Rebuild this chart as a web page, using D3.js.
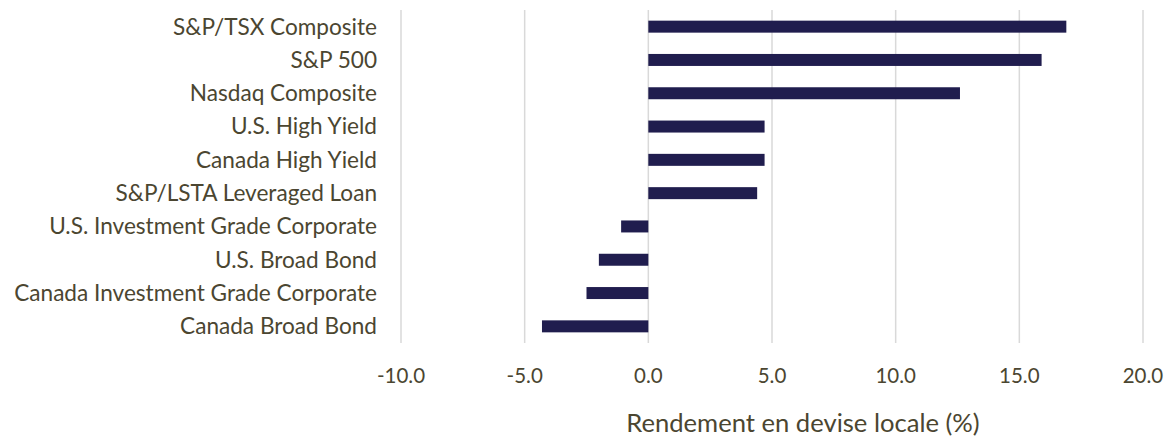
<!DOCTYPE html>
<html>
<head>
<meta charset="utf-8">
<script src="https://cdn.jsdelivr.net/npm/d3@7"></script>
<style>
body { margin: 0; background: #fff; }
text { font-family: "Source Sans Pro", "Lato", "Noto Sans", sans-serif; fill: #4b4631; }
</style>
</head>
<body>
<div id="chart"></div>
<script>
// categories, top to bottom
var categories = [
	"S&P/TSX Composite",
	"S&P 500",
	"Nasdaq Composite",
	"U.S. High Yield",
	"Canada High Yield",
	"S&P/LSTA Leveraged Loan",
	"U.S. Investment Grade Corporate",
	"U.S. Broad Bond",
	"Canada Investment Grade Corporate",
	"Canada Broad Bond"
];
var returns = [16.9, 15.9, 12.6, 4.7, 4.7, 4.4, -1.1, -2.0, -2.5, -4.3];
var tickValues = [-10, -5, 0, 5, 10, 15, 20];
var axisTitle = "Rendement en devise locale (%)";

var W = 1172, H = 437;
var plotLeft = 401, plotRight = 1143, plotTop = 10, plotBottom = 343;

var svg = d3.select("#chart").append("svg")
	.attr("width", W)
	.attr("height", H);

var x = d3.scaleLinear().domain([-10, 20]).range([plotLeft, plotRight]);
var y = d3.scaleBand().domain(categories).range([plotTop, plotBottom]).paddingInner(0.64).paddingOuter(0.32);

// gridlines
svg.append("g").selectAll("line")
	.data(tickValues)
	.enter().append("line")
	.attr("x1", function(d) { return x(d); })
	.attr("x2", function(d) { return x(d); })
	.attr("y1", plotTop)
	.attr("y2", plotBottom)
	.attr("stroke", "#d9d9d9")
	.attr("stroke-width", 1.5);

// bars
svg.append("g").selectAll("rect")
	.data(returns)
	.enter().append("rect")
	.attr("x", function(d) { return x(Math.min(0, d)); })
	.attr("width", function(d) { return Math.abs(x(d) - x(0)); })
	.attr("y", function(d, i) { return y(categories[i]); })
	.attr("height", y.bandwidth())
	.attr("fill", "#201d4e");

// category labels
svg.append("g").selectAll("text")
	.data(categories)
	.enter().append("text")
	.attr("x", 377)
	.attr("y", function(d) { return y(d) + y.bandwidth() / 2; })
	.attr("dy", "0.35em")
	.attr("text-anchor", "end")
	.style("font-size", "22.6px")
	.text(function(d) { return d; });

// x tick labels
var fmt = function(d) { return d3.format(".1f")(d).replace("\u2212", "-"); };
svg.append("g").selectAll("text")
	.data(tickValues)
	.enter().append("text")
	.attr("x", function(d) { return x(d); })
	.attr("y", 376)
	.attr("dy", "0.35em")
	.attr("text-anchor", "middle")
	.style("font-size", "20.5px")
	.text(fmt);

// axis title sits a bit right of the plot centre
svg.append("text")
	.attr("x", 803)
	.attr("y", 423)
	.attr("dy", "0.35em")
	.attr("text-anchor", "middle")
	.style("font-size", "25.6px")
	.text(axisTitle);
</script>
</body>
</html>
